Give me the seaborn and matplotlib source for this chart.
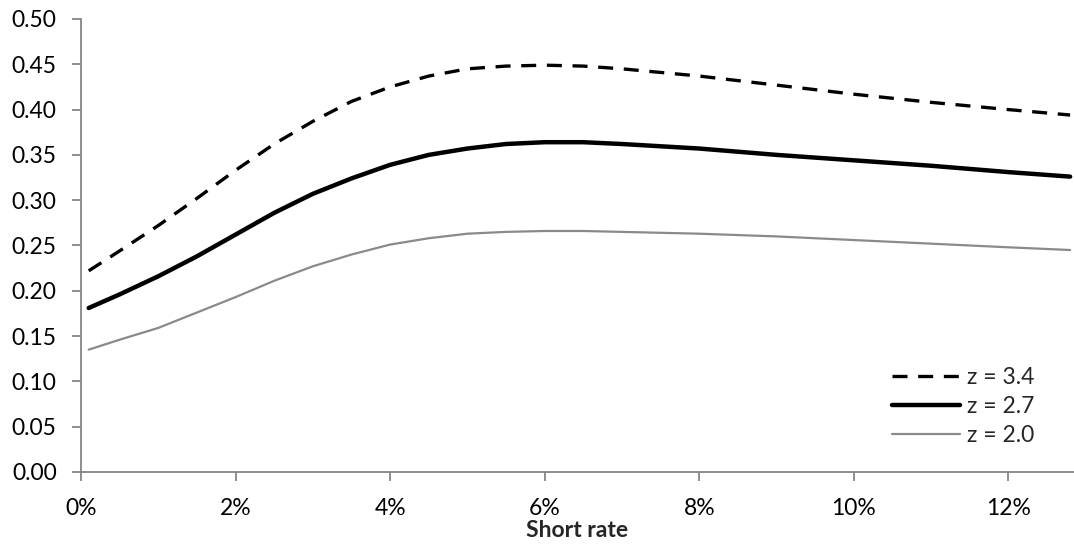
import pandas as pd
import seaborn as sns
import matplotlib.pyplot as plt
from matplotlib.ticker import FuncFormatter, MultipleLocator

# short rate (as a fraction) and curve values
short_rate = [0.001, 0.005, 0.010, 0.015, 0.020, 0.025, 0.030, 0.035, 0.040, 0.045,
              0.050, 0.055, 0.060, 0.065, 0.070, 0.080, 0.090, 0.100, 0.110, 0.120, 0.128]
z_34 = [0.222, 0.244, 0.272, 0.302, 0.333, 0.362, 0.387, 0.409, 0.425, 0.437,
        0.445, 0.448, 0.449, 0.448, 0.445, 0.437, 0.427, 0.417, 0.408, 0.400, 0.394]
z_27 = [0.181, 0.196, 0.216, 0.238, 0.262, 0.286, 0.307, 0.324, 0.339, 0.350,
        0.357, 0.362, 0.364, 0.364, 0.362, 0.357, 0.350, 0.344, 0.338, 0.331, 0.326]
z_20 = [0.135, 0.146, 0.159, 0.176, 0.193, 0.211, 0.227, 0.240, 0.251, 0.258,
        0.263, 0.265, 0.266, 0.266, 0.265, 0.263, 0.260, 0.256, 0.252, 0.248, 0.245]
series_labels = ["z = 3.4", "z = 2.7", "z = 2.0"]

df = pd.DataFrame({"rate": short_rate * 3,
                   "value": z_34 + z_27 + z_20,
                   "series": [s for s in series_labels for _ in short_rate]})

sns.set_style("white")
plt.rcParams["font.family"] = ["Lato", "DejaVu Sans"]
FS = 16.5

fig = plt.figure(figsize=(10.74, 5.44), dpi=100)
ax = fig.add_axes([0.0754, 0.1324, 0.9246, 0.8327])

styles = {"z = 3.4": dict(color="black", lw=2.4, dashes=(4.5, 3.2)),
          "z = 2.7": dict(color="black", lw=3.2),
          "z = 2.0": dict(color="#8a8a8a", lw=1.6)}
for name in series_labels:
    sub = df[df["series"] == name]
    st = styles[name]
    sns.lineplot(data=sub, x="rate", y="value", ax=ax, label=name,
                 color=st["color"], linewidth=st["lw"])
    if "dashes" in st:
        ax.lines[-1].set_dashes(st["dashes"])

ax.set_xlim(0, 0.1285)
ax.set_ylim(0, 0.50)
ax.xaxis.set_major_locator(MultipleLocator(0.02))
ax.yaxis.set_major_locator(MultipleLocator(0.05))
ax.xaxis.set_major_formatter(FuncFormatter(lambda v, p: f"{v * 100:.0f}%"))
ax.yaxis.set_major_formatter(FuncFormatter(lambda v, p: f"{v:.2f}"))

for side in ["top", "right"]:
    ax.spines[side].set_visible(False)
for side in ["left", "bottom"]:
    ax.spines[side].set_color("#868686")
    ax.spines[side].set_linewidth(1.3)
ax.tick_params(axis="both", direction="out", length=6.5, width=1.3, color="#868686",
               labelsize=FS, labelcolor="black")
ax.tick_params(axis="x", pad=12)
ax.tick_params(axis="y", pad=11)
ax.tick_params(bottom=True, left=True)

ax.set_xlabel("Short rate", fontsize=FS, fontweight="bold", labelpad=1)
ax.set_ylabel("")

leg = ax.legend(loc="lower right", bbox_to_anchor=(0.981, 0.012), frameon=False,
                fontsize=FS, handlelength=3.0, handletextpad=0.3, labelspacing=0.35)

fig.savefig("out.png", dpi=100)
